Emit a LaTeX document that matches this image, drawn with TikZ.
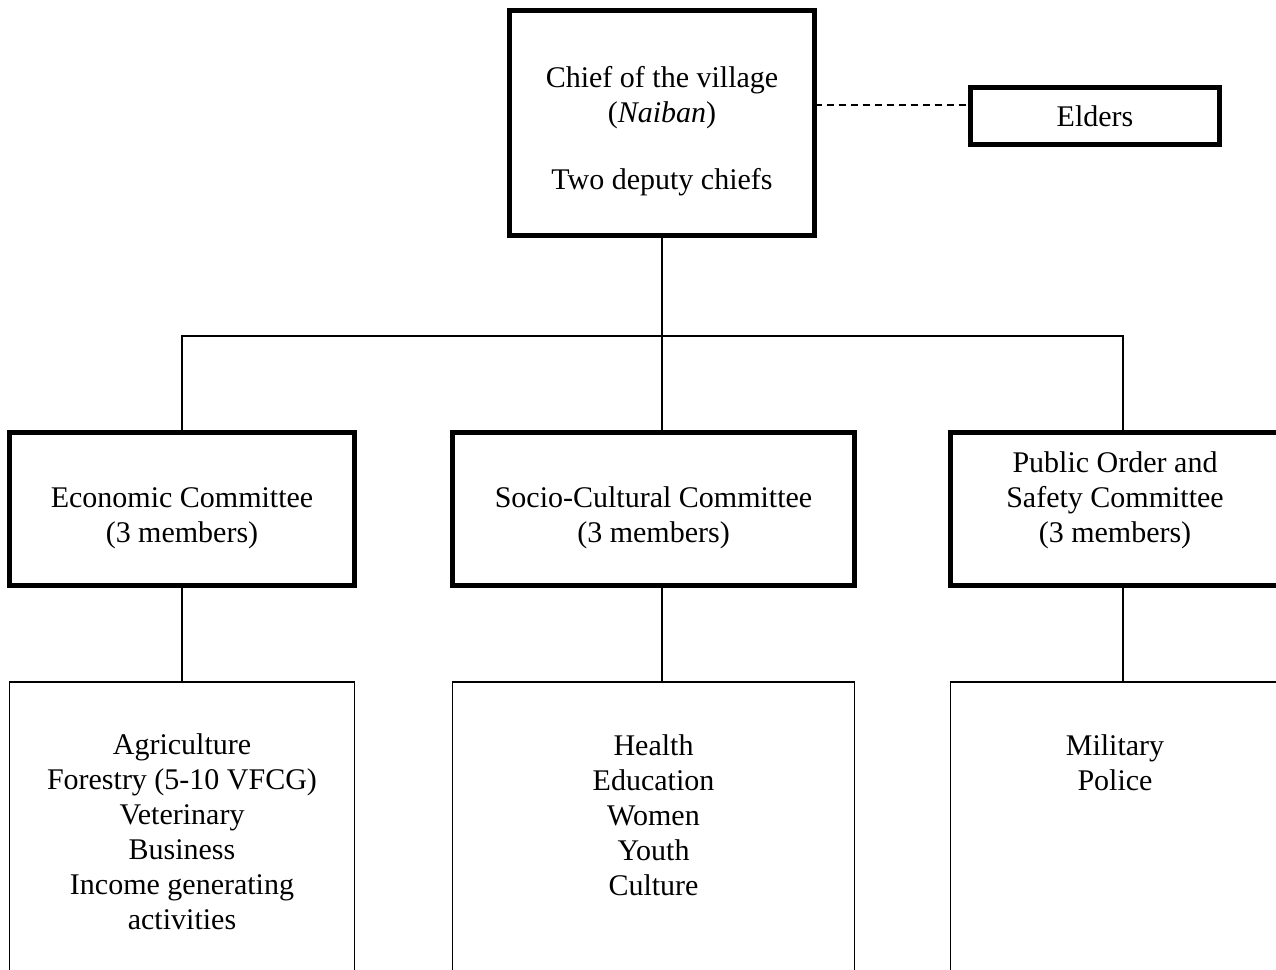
\documentclass[tikz,border=0pt]{standalone}
\usepackage{fontspec}
\setmainfont{Liberation Serif}
\usetikzlibrary{positioning}

% box text: width, height, space above first line, lines
\newcommand{\boxtext}[4]{\parbox[c][#2][t]{#1}{\centering\vspace*{#3}\strut #4}}

\begin{document}
\begin{tikzpicture}[x=0.4pt,y=-0.4pt,font=\fontsize{12}{14}\selectfont,
        main node/.style={draw,line width=2pt,inner sep=0pt,outer sep=0pt},
        list node/.style={draw,line width=0.7pt,inner sep=0pt,outer sep=0pt},
        link line/.style={line width=0.7pt}]
        \clip (0,0) rectangle (1276,970);
        \node[main node] (chief) at (662,123) {\boxtext{122pt}{90pt}{21.2pt}{Chief of the village\\(\textit{Naiban})\\[12.8pt]Two deputy chiefs}};
        \node[main node,minimum width=99.6pt,minimum height=22.8pt] (elders) at (1095,116) {Elders};
        \node[main node] (econ) at (182,509) {\boxtext{138pt}{61.2pt}{6.4pt}{\\Economic Committee\\(3 members)}};
        \node[main node,right=39.2pt of econ] (socio) {\boxtext{160.8pt}{61.2pt}{6.4pt}{\\Socio-Cultural Committee\\(3 members)}};
        \node[main node,right=38.4pt of socio] (public) {\boxtext{131.6pt}{61.2pt}{6.4pt}{Public Order and\\Safety Committee\\(3 members)}};
        \node[list node,below=38.6pt of econ] (econlow) {\boxtext{138pt}{127.2pt}{19.4pt}{Agriculture\\Forestry (5-10 VFCG)\\Veterinary\\Business\\Income generating\\activities}};
        \node[list node,below=38.6pt of socio] (sociolow) {\boxtext{160.8pt}{127.2pt}{19.8pt}{Health\\Education\\Women\\Youth\\Culture}};
        \node[list node,below=38.6pt of public] (publow) {\boxtext{131.6pt}{127.2pt}{19.8pt}{Military\\Police}};
        % branch points
        \coordinate (split) at (662,336);
        \coordinate (econtop) at (182,336);
        \coordinate (pubtop) at (1123,336);
        \coordinate (dashy) at (0,105);
        \draw[line width=0.5pt,dash pattern=on 2.8pt off 2pt] (chief.east |- dashy) -- (elders.west |- dashy);
        \draw[link line] (chief.south) -- (split);
        \draw[link line] (econ.north) -- (econtop) -- (pubtop) -- (pubtop |- public.north);
        \draw[link line] (split) -- (split |- socio.north);
        \draw[link line] (econ.south) -- (econlow.north);
        \draw[link line] (socio.south -| split) -- (sociolow.north -| split);
        \draw[link line] (public.south -| pubtop) -- (publow.north -| pubtop);
\end{tikzpicture}
\end{document}
